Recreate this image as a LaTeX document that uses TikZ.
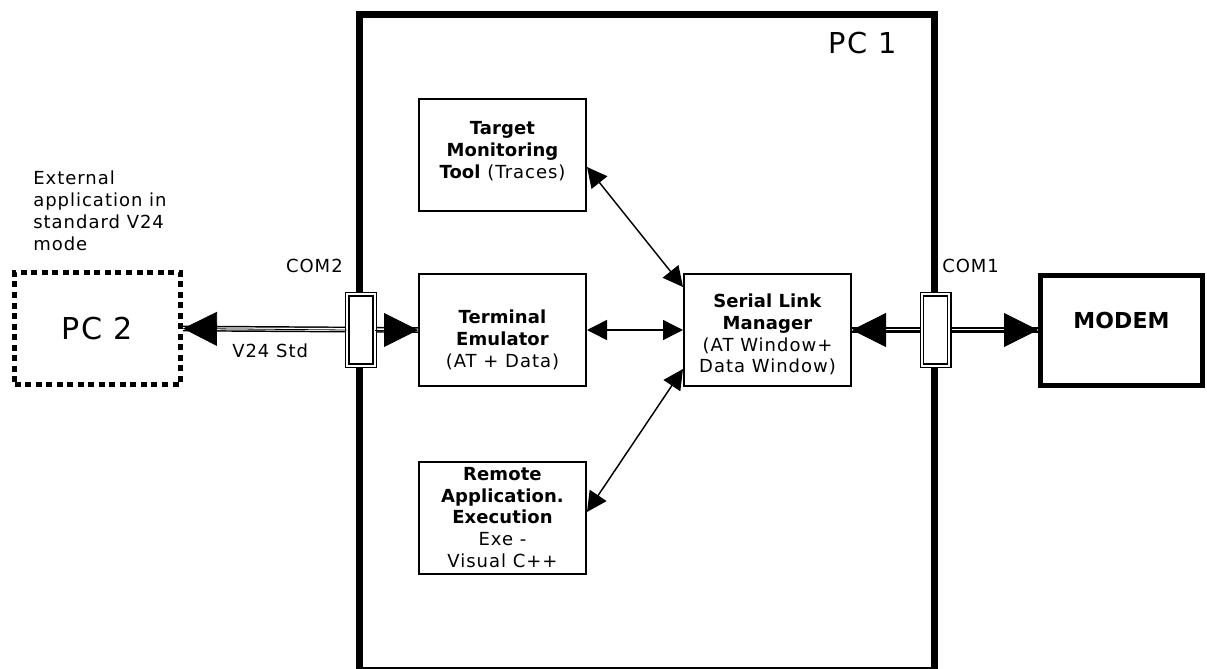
\documentclass[tikz,border=0pt]{standalone}
\usepackage{fontspec}
\setmainfont{DejaVu Sans}[LetterSpace=5.5, BoldFeatures={LetterSpace=0.5}]
\usetikzlibrary{arrows.meta}
\tikzset{
  unit/.style={draw, line width=1.5pt, minimum width=125.25pt, minimum height=84pt, inner sep=0pt},
  txt/.style={align=center, inner sep=0pt, font=\fontsize{13.5}{16.3}\selectfont},
  port/.style={draw, fill=white, double, line width=1pt, double distance=1.6pt, minimum width=20.4pt, minimum height=53.4pt, inner sep=0pt},
  serial/.style={double, line width=1.1pt, double distance=2.2pt},
  bigtip/.style={-{Triangle[length=25.5pt,width=25.5pt]}, line width=0.6pt},
  link/.style={{Triangle[length=15pt,width=15pt]}-{Triangle[length=15pt,width=15pt]}, line width=1.1pt},
}
\begin{document}
\begin{tikzpicture}[x=0.75pt,y=-0.75pt]
\useasboundingbox (0,0) rectangle (1207,668);
%\draw[help lines] (0,0) grid[step=50] (1207,668);
% PC 1 frame
\node[draw, line width=5.25pt, minimum width=431.25pt, minimum height=492pt, inner sep=0pt] (pc1) at (646.5,342.5) {};
\node[anchor=base east, inner sep=0pt, font=\fontsize{21.6}{24}\selectfont] (pc1lbl) at (897,53) {PC 1};
% boxes inside PC 1
\node[unit] (tmt) at (502.5,155) {};
\node[txt] (tmttxt) at (502.5,151) {\textbf{Target}\\\textbf{Monitoring}\\\textbf{Tool} (Traces)};
\node[unit] (te) at (502.5,330) {};
\node[txt] (tetxt) at (502.5,340) {\textbf{Terminal}\\\textbf{Emulator}\\(AT + Data)};
\node[unit] (rae) at (502.5,518) {};
\node[txt] (raetxt) at (502.5,517.5) {\textbf{Remote}\\\textbf{Application.}\\\textbf{Execution}\\Exe -\\Visual C++};
\node[unit] (slm) at (767.5,330) {};
\node[txt] (slmtxt) at (767.5,334.5) {\textbf{Serial Link}\\\textbf{Manager}\\(AT Window+\\Data Window)};
% outside
\node[draw, line width=3.75pt, dash pattern=on 4.5pt off 3.4pt, minimum width=124.5pt, minimum height=84pt, inner sep=0pt,
  font=\fontsize{22.6}{26}\selectfont] (pc2) at (97.5,328.5) {PC 2};
\node[txt, align=left, anchor=north west] (ext) at (33,171) {External\\application in\\standard V24\\mode};
\node[draw, line width=3.75pt, minimum width=121.5pt, minimum height=82.5pt, inner sep=0pt] (modem) at (1121.5,330) {};
\node[txt, font=\fontsize{16.5}{20}\selectfont\bfseries] (modemtxt) at (1121.5,320) {MODEM};
% serial lines
\draw[serial] (pc2.east) -- (te.west);
\draw[serial] (slm.east) -- (modem.west);
\node[port] (com2) at (361,330) {};
\node[port] (com1) at (935.5,330) {};
\node[txt, anchor=base east] (com2lbl) at (343,272) {COM2};
\node[txt, anchor=base west] (com1lbl) at (942,272) {COM1};
\node[txt, anchor=base west] (v24) at (232,357) {V24 Std};
\draw[bigtip] (com2.west) -- (pc2.east);
\draw[bigtip] (com2.east) -- (te.west);
\draw[bigtip] (com1.west) -- (slm.east);
\draw[bigtip] (com1.east) -- (modem.west);
% links to the serial link manager
\draw[link] ([yshift=-9pt]tmt.east) -- ([yshift=-10.5pt]slm.north west);
\draw[link] (te.east) -- (slm.west);
\draw[link] ([yshift=4.5pt]rae.east) -- ([yshift=13.5pt]slm.south west);
\end{tikzpicture}
\end{document}
